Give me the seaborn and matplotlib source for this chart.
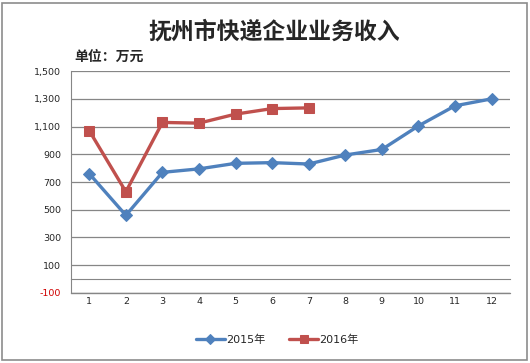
import numpy as np
import pandas as pd
import matplotlib
matplotlib.use('Agg')
import matplotlib.pyplot as plt
import seaborn as sns
from matplotlib.patches import Rectangle

# dados
months = list(range(1, 13))
income_2015 = [760, 460, 770, 795, 835, 840, 830, 895, 935, 1105, 1250, 1300]
income_2016 = [1070, 630, 1130, 1125, 1190, 1230, 1235]
y_ticks = [-100, 100, 300, 500, 700, 900, 1100, 1300, 1500]

sns.set_style('white')
plt.rcParams['font.family'] = ['DejaVu Sans', 'Noto Sans CJK SC']

blue = '#4F81BD'
red = '#C0504D'
grid_c = '#868686'

fig = plt.figure(figsize=(5.3, 3.63), dpi=100)
ax = fig.add_axes([0.134, 0.193, 0.828, 0.611])

sns.lineplot(x=months, y=income_2015, ax=ax, color=blue, linewidth=2.4,
             marker='D', markersize=6, markeredgecolor=blue, label='2015年')
sns.lineplot(x=months[:len(income_2016)], y=income_2016, ax=ax, color=red,
             linewidth=2.4, marker='s', markersize=7, markeredgecolor=red,
             label='2016年')

ax.set_xlim(0.5, 12.5)
ax.set_ylim(-100, 1500)
ax.set_yticks(y_ticks)
ax.set_yticklabels([f'{v:,}' for v in y_ticks], fontsize=6.8)
ax.get_yticklabels()[0].set_color('#D00000')
ax.yaxis.grid(True, color=grid_c, linewidth=0.9)
ax.axhline(y_ticks[0], color=grid_c, linewidth=1.0, clip_on=False, zorder=0)
ax.set_axisbelow(True)
ax.tick_params(axis='y', length=4, color=grid_c, width=0.9, pad=3)

# eixo x cruzando em zero, rótulos embaixo
ax.spines['bottom'].set_position(('data', 0))
ax.spines['bottom'].set_color(grid_c)
ax.spines['left'].set_color(grid_c)
ax.spines['top'].set_visible(False)
ax.spines['right'].set_visible(False)
ax.set_xticks(months)
ax.set_xticklabels([str(m) for m in months], fontsize=6.8)
ax.set_xticks(np.arange(0.5, 13, 1), minor=True)
ax.tick_params(axis='x', which='major', length=0, pad=13)
ax.tick_params(axis='x', which='minor', length=3, color=grid_c, width=0.9,
               direction='out')
ax.set_xlabel('')
ax.set_ylabel('')

fig.text(0.517, 0.912, '抚州市快递企业业务收入', ha='center', va='center',
         fontsize=16.5, fontweight='bold', family=['Noto Sans CJK SC'])
fig.text(0.141, 0.843, '单位：万元', ha='left', va='center',
         fontsize=10, fontweight='bold', family=['Noto Sans CJK SC'])

ax.legend(loc='center', bbox_to_anchor=(0.47, 1 - (340 - 71) / 222.0),
          ncol=2, frameon=False, fontsize=8, handlelength=2.6,
          columnspacing=2.2, handletextpad=0.1, markerscale=0.9)

fig.add_artist(Rectangle((0.004, 0.008), 0.99, 0.984, transform=fig.transFigure,
                         fill=False, edgecolor='#8C8C8C', linewidth=1.2))

fig.savefig('out.png', dpi=100)
